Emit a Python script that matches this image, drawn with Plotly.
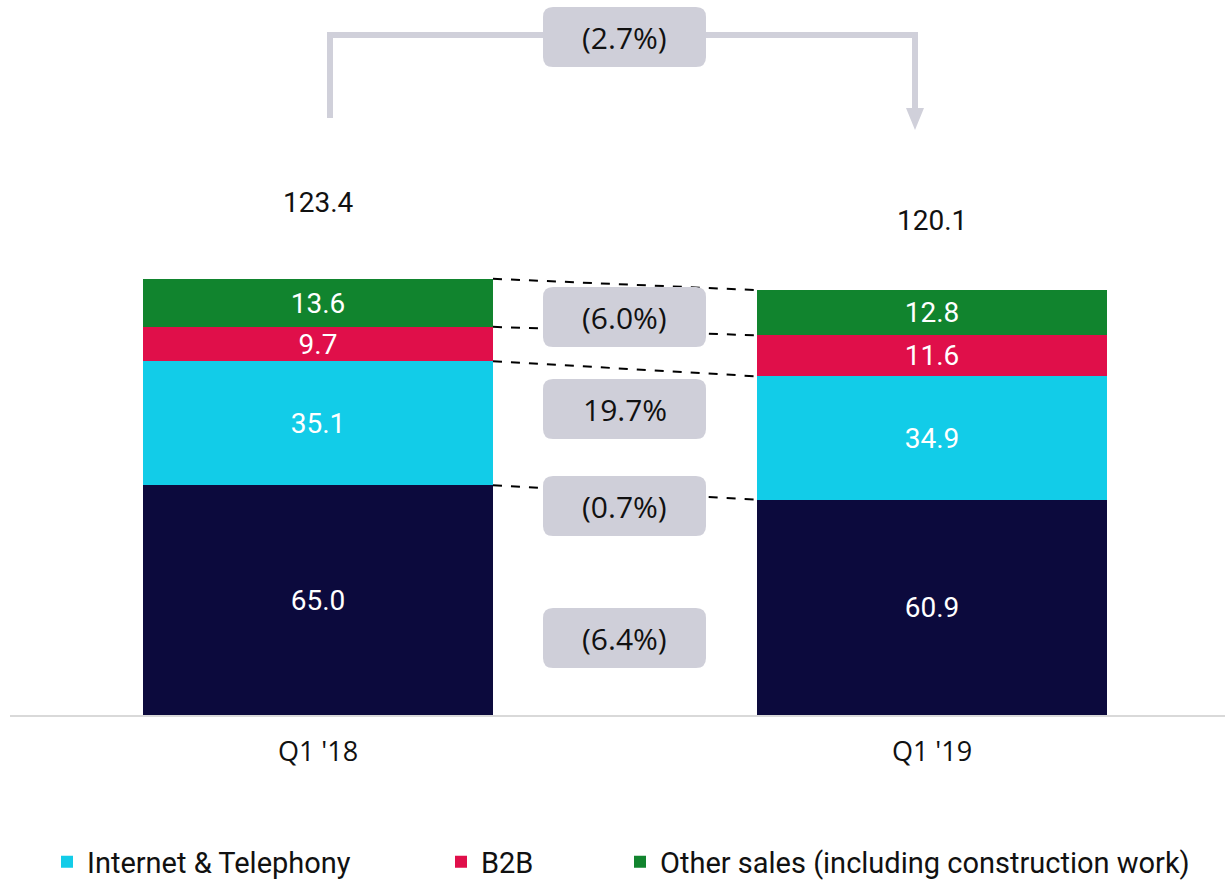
import plotly.graph_objects as go

# ---- data ----
periods = ["Q1 '18", "Q1 '19"]
core_vals = [65.0, 60.9]
internet_vals = [35.1, 34.9]
b2b_vals = [9.7, 11.6]
other_vals = [13.6, 12.8]
totals = [123.4, 120.1]
total_change = "(2.7%)"
segment_changes = ["(6.4%)", "(0.7%)", "19.7%", "(6.0%)"]  # core, internet, b2b, other

# ---- style ----
C_CORE = "#0c0a3d"
C_INT = "#12cce8"
C_B2B = "#e00f4a"
C_OTH = "#11842e"
C_BOX = "#cfcfd9"
PX_PER_UNIT = 3.535
BAR_W = 0.57
X = [0, 1]
YMAX = 715 / PX_PER_UNIT

def py(pix):  # pixel row -> data y
    return (715 - pix) / PX_PER_UNIT

def pxx(pix):  # pixel column -> data x
    return (pix - 318) / 614

fig = go.Figure()
series = [
    ("Core services", core_vals, C_CORE, False, None),
    ("Internet & Telephony", internet_vals, C_INT, True, "legend"),
    ("B2B", b2b_vals, C_B2B, True, "legend2"),
    ("Other sales (including construction work)", other_vals, C_OTH, True, "legend3"),
]
for name, vals, col, show, lg in series:
    kw = dict(legend=lg) if lg else {}
    fig.add_trace(go.Bar(
        x=X, y=vals, name=name, width=BAR_W,
        marker=dict(color=col, line=dict(width=0)),
        text=[f"{v:.1f}" for v in vals], textposition="inside",
        insidetextanchor="middle", constraintext="none",
        textfont=dict(color="white", size=28, family="Roboto"),
        showlegend=show, hoverinfo="skip", **kw,
    ))

shapes = []
annotations = []

# dashed connectors between segment tops
cum0, cum1 = 0, 0
for vals in [core_vals, internet_vals, b2b_vals, other_vals]:
    cum0 += vals[0]
    cum1 += vals[1]
    shapes.append(dict(type="line", xref="x", yref="y",
                       x0=X[0] + BAR_W / 2, x1=X[1] - BAR_W / 2, y0=cum0, y1=cum1,
                       line=dict(color="black", width=2, dash="dash")))

def rounded_box(cx, cy, w=163, h=60, r=10):
    hw, hh = w / 2, h / 2
    path = (f"M{-hw + r},{-hh} L{hw - r},{-hh} Q{hw},{-hh} {hw},{-hh + r} "
            f"L{hw},{hh - r} Q{hw},{hh} {hw - r},{hh} L{-hw + r},{hh} "
            f"Q{-hw},{hh} {-hw},{hh - r} L{-hw},{-hh + r} Q{-hw},{-hh} {-hw + r},{-hh} Z")
    return dict(type="path", xref="x", yref="y", xsizemode="pixel", ysizemode="pixel",
                xanchor=cx, yanchor=cy, path=path, fillcolor=C_BOX,
                line=dict(width=0), layer="above")

# segment change boxes (pixel rows of box centres)
box_rows = [638, 506, 409, 317]
mid_x = pxx(624.5)
for lab, row in zip(segment_changes, box_rows):
    shapes.append(rounded_box(mid_x, py(row)))
    annotations.append(dict(x=mid_x, y=py(row), xref="x", yref="y", text=lab,
                            showarrow=False, font=dict(size=30, family="Open Sans", color="#111")))

# top bracket arrow
LINE_C = "#d0d0da"
xl, xr = pxx(330), pxx(915)
shapes.append(dict(type="path", xref="x", yref="y",
                   path=f"M{xl},{py(118)} L{xl},{py(35)} L{xr},{py(35)} L{xr},{py(110)}",
                   line=dict(color=LINE_C, width=6)))
shapes.append(dict(type="path", xref="x", yref="y",
                   path=f"M{pxx(906)},{py(108)} L{pxx(924)},{py(108)} L{xr},{py(130)} Z",
                   fillcolor=LINE_C, line=dict(width=0)))
shapes.append(rounded_box(mid_x, py(37)))
annotations.append(dict(x=mid_x, y=py(37), xref="x", yref="y", text=total_change,
                        showarrow=False, font=dict(size=30, family="Open Sans", color="#111")))

# totals above bars
label_shift = [76, 70]
for xi, t, s in zip(X, totals, label_shift):
    annotations.append(dict(x=xi, y=t, xref="x", yref="y", text=f"{t:.1f}", showarrow=False,
                            yshift=s, font=dict(size=28, family="Roboto", color="#111")))

leg_common = dict(orientation="h", yref="container", y=1 - 862 / 880, yanchor="middle",
                  xanchor="left", font=dict(size=29, family="Roboto", color="#111"),
                  bgcolor="rgba(0,0,0,0)")

fig.update_layout(
    width=1225, height=880,
    margin=dict(l=10, r=0, t=0, b=165),
    plot_bgcolor="white", paper_bgcolor="white",
    barmode="stack", bargap=0,
    shapes=shapes, annotations=annotations,
    xaxis=dict(range=[-(318 - 10) / 614, 1 + (1225 - 932) / 614], tickvals=X, ticktext=periods,
               showline=True, linecolor="#d9d9d9", linewidth=2, showgrid=False, zeroline=False,
               ticks="", ticklabelstandoff=12,
               tickfont=dict(size=27, family="Open Sans", color="#111")),
    yaxis=dict(range=[0, YMAX], visible=False),
    legend=dict(x=(47 - 10) / 1215, **leg_common),
    legend2=dict(x=(441 - 10) / 1215, **leg_common),
    legend3=dict(x=(620 - 10) / 1215, **leg_common),
)

fig.write_html("out.html")
